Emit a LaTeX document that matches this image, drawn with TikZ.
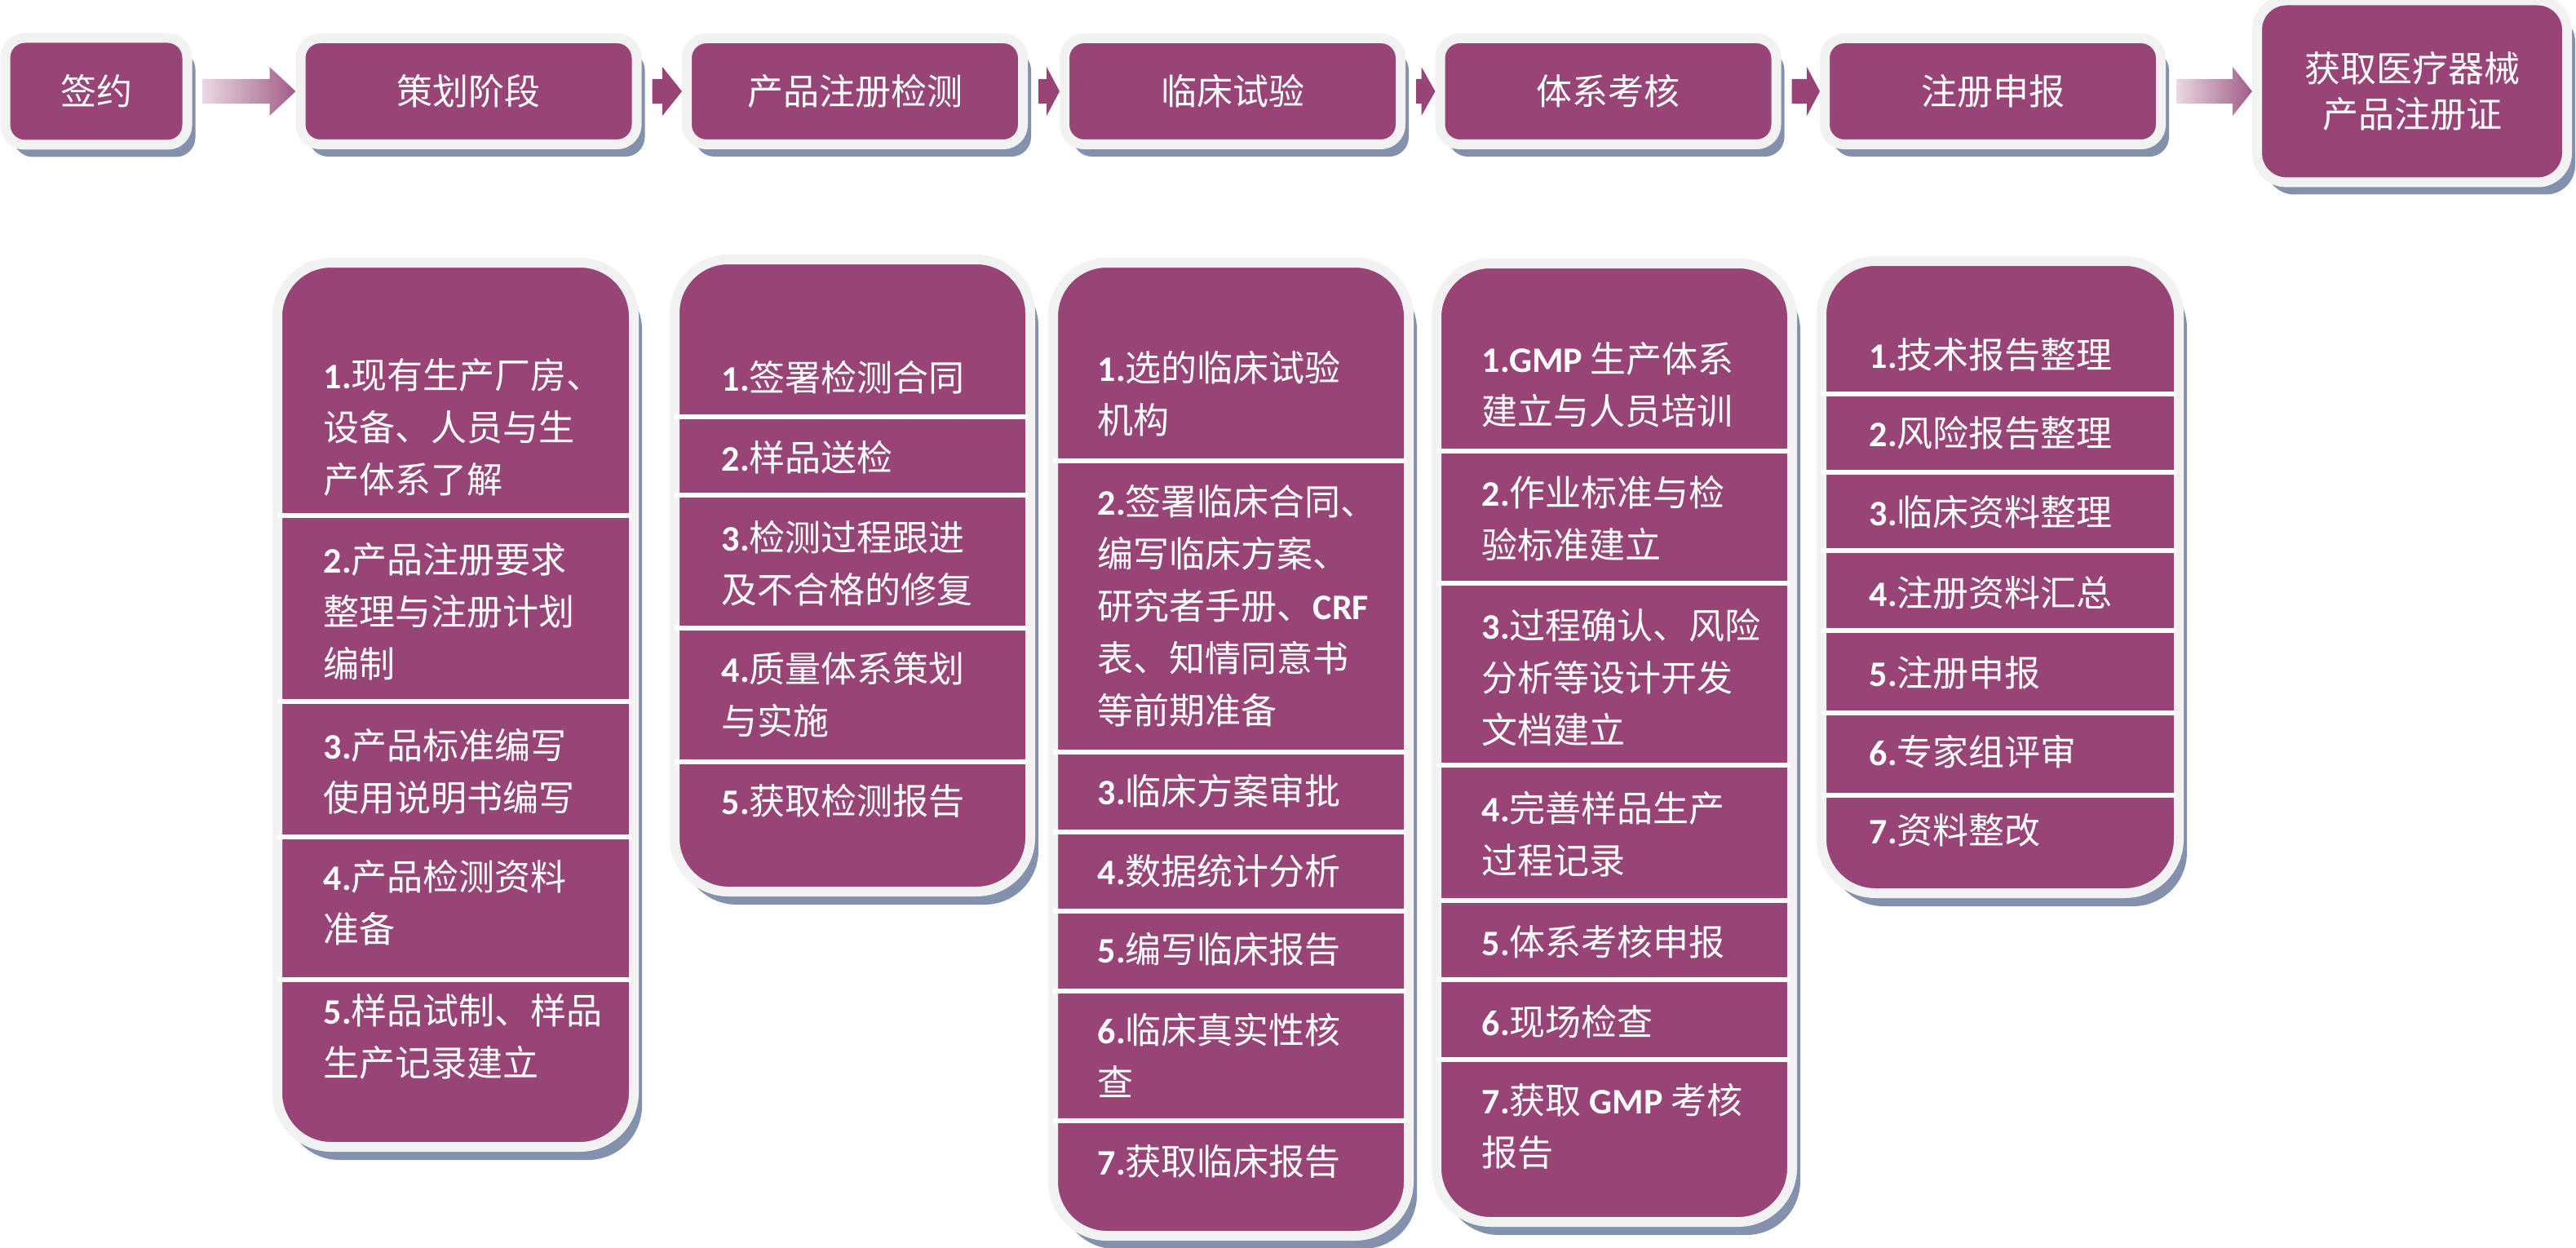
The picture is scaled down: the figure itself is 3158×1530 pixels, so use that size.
\documentclass[tikz,border=0pt]{standalone}
\usepackage{fontspec}
\setmainfont{Noto Sans CJK SC}
\newfontfamily\latinfont{Carlito}
\usepackage{tikz}
\usetikzlibrary{calc}
\usetikzlibrary{positioning}
\usetikzlibrary{shadows}

\definecolor{plum}{RGB}{152,68,118}
\definecolor{rim}{RGB}{242,242,242}
\definecolor{shadowblue}{RGB}{132,145,172}
\definecolor{arrowlight}{RGB}{234,216,227}
\definecolor{arrowdark}{RGB}{160,92,134}

\newlength\pxu
\setlength\pxu{0.25pt}
\newcommand\idx[1]{{\latinfont\bfseries #1}}
\newcommand\blockarrow[4]{%
  \coordinate (#1-o) at ($(#1.east)+(13,0)$);
  \path[#4] ($(#1-o |- #2.west)+(0,-15)$) -- ($(#2.west)+(-#3,-15)$) -- ($(#2.west)+(-#3,-30)$) -- (#2.west) -- ($(#2.west)+(-#3,30)$) -- ($(#2.west)+(-#3,15)$) -- ($(#1-o |- #2.west)+(0,15)$) -- cycle;
}
\newcommand\panel[4]{\path[panel] (#1-6,#2-6) rectangle (#3+6,#4+6);}
\newcommand\divider[3]{\draw[divider] (#1-6,#3) -- (#2+3,#3);}

\begin{document}
\begin{tikzpicture}[x=0.25pt, y=-0.25pt,
  stage/.style={fill=plum, draw=rim, line width=12\pxu, rounded corners=24\pxu, text=white, inner sep=0pt, align=center, font=\fontsize{11pt}{14pt}\selectfont, drop shadow={shadow xshift=10\pxu, shadow yshift=-15\pxu, fill=shadowblue, opacity=1}},
  panel/.style={fill=plum, draw=rim, line width=12\pxu, rounded corners=66\pxu, drop shadow={shadow xshift=10\pxu, shadow yshift=-16\pxu, fill=shadowblue, opacity=1}},
  divider/.style={white, line width=6\pxu},
  item/.style={anchor=west, inner sep=0pt, text=white, align=left, font=\fontsize{11pt}{16pt}\selectfont},
  plainarrow/.style={fill=plum},
  fadearrow/.style={left color=arrowlight, right color=arrowdark}]
\path[use as bounding box, fill=white] (0,0) rectangle (3158,1530);

\node[stage, minimum width=223\pxu, minimum height=131\pxu] (sign) at (118,112) {签约};
\node[stage, minimum width=412\pxu, minimum height=130\pxu, right of=sign, node distance=456.5\pxu] (plan) {策划阶段};
\node[stage, minimum width=412\pxu, minimum height=130\pxu, right of=plan, node distance=473.5\pxu] (test) {产品注册检测};
\node[stage, minimum width=412\pxu, minimum height=130\pxu, right of=test, node distance=463\pxu] (clinic) {临床试验};
\node[stage, minimum width=412\pxu, minimum height=130\pxu, right of=clinic, node distance=460.5\pxu] (audit) {体系考核};
\node[stage, minimum width=412\pxu, minimum height=130\pxu, right of=audit, node distance=471.5\pxu] (submit) {注册申报};
\node[stage, rounded corners=36\pxu, minimum width=380\pxu, minimum height=223\pxu, right of=submit, node distance=514\pxu] (permit) {获取医疗器械\\产品注册证};

\blockarrow{sign}{plan}{32}{fadearrow}
\blockarrow{plan}{test}{24}{plainarrow}
\blockarrow{test}{clinic}{16}{plainarrow}
\blockarrow{clinic}{audit}{17}{plainarrow}
\blockarrow{audit}{submit}{16}{plainarrow}
\blockarrow{submit}{permit}{24}{fadearrow}

\panel{346}{328}{771}{1400}
\panel{833}{324}{1257}{1087}
\panel{1297}{328}{1721}{1509}
\panel{1767}{329}{2191}{1492}
\panel{2239}{326}{2665}{1089}

\foreach \y in {632,860,1026,1201} {\divider{346}{771}{\y}}
\foreach \y in {511,607,770,934} {\divider{833}{1257}{\y}}
\foreach \y in {565,922,1020,1117,1215,1374} {\divider{1297}{1721}{\y}}
\foreach \y in {553,715,938,1104,1201,1299} {\divider{1767}{2191}{\y}}
\foreach \y in {483,579,675,773,874,975} {\divider{2239}{2665}{\y}}

\node[item] (plan1) at (396,524) {\idx{1.}现有生产厂房、\\设备、人员与生\\产体系了解};
\node[item] (plan2) at (396,750) {\idx{2.}产品注册要求\\整理与注册计划\\编制};
\node[item] (plan3) at (396,946) {\idx{3.}产品标准编写\\使用说明书编写};
\node[item] (plan4) at (396,1107) {\idx{4.}产品检测资料\\准备};
\node[item] (plan5) at (396,1271) {\idx{5.}样品试制、样品\\生产记录建立};

\node[item] (test1) at (884,463) {\idx{1.}签署检测合同};
\node[item] (test2) at (884,561) {\idx{2.}样品送检};
\node[item] (test3) at (884,691) {\idx{3.}检测过程跟进\\及不合格的修复};
\node[item] (test4) at (884,852) {\idx{4.}质量体系策划\\与实施};
\node[item] (test5) at (884,982) {\idx{5.}获取检测报告};

\node[item] (clinic1) at (1345,483) {\idx{1.}选的临床试验\\机构};
\node[item] (clinic2) at (1345,743) {\idx{2.}签署临床合同、\\编写临床方案、\\研究者手册、\idx{CRF}\\表、知情同意书\\等前期准备};
\node[item] (clinic3) at (1345,970) {\idx{3.}临床方案审批};
\node[item] (clinic4) at (1345,1068) {\idx{4.}数据统计分析};
\node[item] (clinic5) at (1345,1164) {\idx{5.}编写临床报告};
\node[item] (clinic6) at (1345,1294) {\idx{6.}临床真实性核\\查};
\node[item] (clinic7) at (1345,1424) {\idx{7.}获取临床报告};

\node[item] (audit1) at (1816,472) {\idx{1.GMP} 生产体系\\建立与人员培训};
\node[item] (audit2) at (1816,636) {\idx{2.}作业标准与检\\验标准建立};
\node[item] (audit3) at (1816,831) {\idx{3.}过程确认、风险\\分析等设计开发\\文档建立};
\node[item] (audit4) at (1816,1023) {\idx{4.}完善样品生产\\过程记录};
\node[item] (audit5) at (1816,1155) {\idx{5.}体系考核申报};
\node[item] (audit6) at (1816,1253) {\idx{6.}现场检查};
\node[item] (audit7) at (1816,1381) {\idx{7.}获取 \idx{GMP} 考核\\报告};

\node[item] (submit1) at (2291,435) {\idx{1.}技术报告整理};
\node[item] (submit2) at (2291,531) {\idx{2.}风险报告整理};
\node[item] (submit3) at (2291,628) {\idx{3.}临床资料整理};
\node[item] (submit4) at (2291,727) {\idx{4.}注册资料汇总};
\node[item] (submit5) at (2291,825) {\idx{5.}注册申报};
\node[item] (submit6) at (2291,922) {\idx{6.}专家组评审};
\node[item] (submit7) at (2291,1018) {\idx{7.}资料整改};
\end{tikzpicture}
\end{document}
